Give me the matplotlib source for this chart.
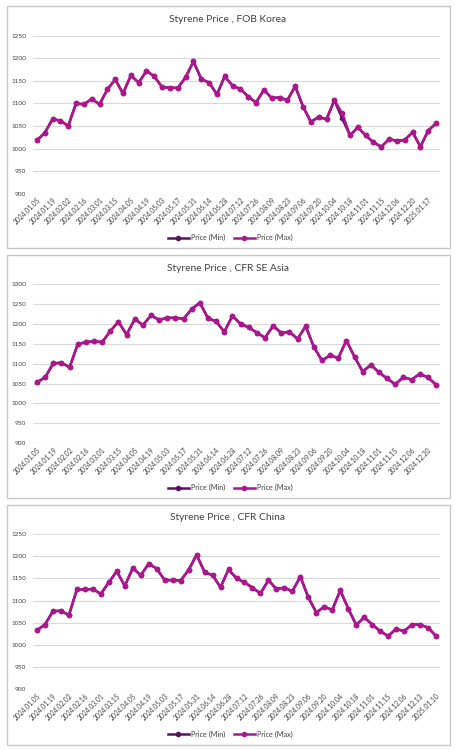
import matplotlib.pyplot as plt
import numpy as np
from matplotlib.patches import Rectangle
from matplotlib.lines import Line2D

plt.rcParams['font.family'] = ['Lato', 'DejaVu Sans']

# weekly assessment dates (category axis)
dates_2024 = ["2024.01.05", "2024.01.12", "2024.01.19", "2024.01.26", "2024.02.02", "2024.02.09",
              "2024.02.16", "2024.02.23", "2024.03.01", "2024.03.08", "2024.03.15", "2024.03.22",
              "2024.04.05", "2024.04.12", "2024.04.19", "2024.04.26", "2024.05.03", "2024.05.10",
              "2024.05.17", "2024.05.24", "2024.05.31", "2024.06.07", "2024.06.14", "2024.06.21",
              "2024.06.28", "2024.07.05", "2024.07.12", "2024.07.19", "2024.07.26", "2024.08.02",
              "2024.08.09", "2024.08.16", "2024.08.23", "2024.08.30", "2024.09.06", "2024.09.13",
              "2024.09.20", "2024.09.27", "2024.10.04", "2024.10.11", "2024.10.18", "2024.10.25",
              "2024.11.01", "2024.11.08", "2024.11.15", "2024.11.22"]

dates_korea = dates_2024 + ["2024.12.06", "2024.12.13", "2024.12.20", "2024.12.27", "2025.01.17", "2025.01.24"]
dates_asia = dates_2024 + ["2024.12.06", "2024.12.13", "2024.12.20", "2024.12.27"]
dates_china = dates_2024 + ["2024.12.06", "2024.12.10", "2024.12.13", "2024.12.20", "2025.01.10"]

korea_max = [1018, 1035, 1065, 1062, 1050, 1100, 1098, 1110, 1098, 1131, 1153, 1122, 1162, 1146,
             1172, 1160, 1136, 1135, 1134, 1158, 1193, 1154, 1146, 1120, 1160, 1139, 1132, 1115,
             1102, 1130, 1112, 1113, 1107, 1138, 1093, 1059, 1070, 1065, 1107, 1078, 1029, 1047,
             1029, 1014, 1004, 1021, 1017, 1019, 1036, 1004, 1040, 1056]
korea_min = [1018, 1035, 1065, 1062, 1050, 1100, 1098, 1110, 1098, 1131, 1153, 1122, 1162, 1146,
             1172, 1160, 1136, 1135, 1134, 1158, 1193, 1154, 1146, 1120, 1160, 1139, 1132, 1115,
             1102, 1130, 1112, 1113, 1107, 1138, 1093, 1059, 1070, 1065, 1107, 1067, 1029, 1047,
             1029, 1014, 1004, 1021, 1017, 1019, 1036, 1004, 1040, 1056]

asia_max = [1053, 1066, 1101, 1102, 1091, 1149, 1154, 1156, 1154, 1182, 1205, 1173, 1212, 1197,
            1221, 1210, 1215, 1215, 1213, 1237, 1253, 1214, 1206, 1180, 1220, 1200, 1191, 1178,
            1165, 1195, 1177, 1180, 1162, 1194, 1142, 1108, 1121, 1114, 1158, 1117, 1080, 1097,
            1078, 1063, 1048, 1066, 1060, 1074, 1066, 1047]
asia_min = list(asia_max)

china_max = [1033, 1046, 1076, 1077, 1067, 1125, 1125, 1126, 1115, 1141, 1166, 1133, 1173, 1157,
             1183, 1172, 1146, 1146, 1145, 1169, 1203, 1164, 1157, 1130, 1170, 1150, 1141, 1129,
             1116, 1146, 1126, 1129, 1121, 1154, 1107, 1073, 1086, 1079, 1123, 1082, 1045, 1062,
             1046, 1031, 1020, 1036, 1031, 1046, 1046, 1039, 1020]
china_min = list(china_max)

panels = [
    ("Styrene Price , FOB Korea", dates_korea, korea_min, korea_max, (900, 1250), 6, 248),
    ("Styrene Price , CFR SE Asia", dates_asia, asia_min, asia_max, (900, 1300), 255, 498),
    ("Styrene Price , CFR China", dates_china, china_min, china_max, (900, 1250), 505, 745),
]
# plot-area pixel extents (top, bottom) for each panel
plot_px = [(35.7, 193.7), (284, 443.3), (534, 689.3)]
title_px = [20, 268.7, 517.7]
legend_px = [237.7, 487.7, 734]

W, H = 456, 750
c_min = "#5A1060"
c_max = "#AE148E"
grid_c = "#D9D9D9"
lw, ms = 1.8, 3.0

fig = plt.figure(figsize=(W / 100, H / 100), dpi=100)

for k, (title, dates, pmin, pmax, ylim, box_top, box_bot) in enumerate(panels):
    # panel frame
    fig.patches.append(Rectangle((7 / W, 1 - box_bot / H), (450 - 7) / W, (box_bot - box_top) / H,
                                 transform=fig.transFigure, fill=False, ec="#C8C8C8", lw=1.0))
    top, bot = plot_px[k]
    ax = fig.add_axes([33 / W, 1 - bot / H, (440 - 33) / W, (bot - top) / H])
    x = np.arange(len(dates))
    ax.plot(x, pmin, color=c_min, lw=lw, marker="o", ms=ms, zorder=3)
    ax.plot(x, pmax, color=c_max, lw=lw, marker="o", ms=ms, zorder=4)
    ax.set_xlim(-0.5, len(dates) - 0.5)
    ax.set_ylim(*ylim)
    ax.set_yticks(np.arange(ylim[0], ylim[1] + 1, 50))
    ax.yaxis.grid(True, color=grid_c, lw=0.8)
    ax.set_axisbelow(True)
    for s in ax.spines.values():
        s.set_visible(False)
    ax.set_xticks(x[::2])
    ax.set_xticklabels(dates[::2], rotation=45, ha="right", va="top", rotation_mode="anchor",
                       fontsize=4.9, color="#404040")
    ax.tick_params(axis="both", length=0, pad=2)
    ax.tick_params(axis="y", labelsize=4.6, labelcolor="#404040", pad=5)

    fig.text(0.5, 1 - title_px[k] / H, title, ha="center", va="center", fontsize=7.4, color="#404040")

    handles = [Line2D([], [], color=c_min, lw=lw, marker="o", ms=ms),
               Line2D([], [], color=c_max, lw=lw, marker="o", ms=ms)]
    fig.legend(handles, ["Price (Min)", "Price (Max)"], loc="center",
               bbox_to_anchor=(230 / W, 1 - legend_px[k] / H), ncol=2, frameon=False,
               fontsize=5.2, handlelength=3, handletextpad=0.2, columnspacing=1.2,
               labelcolor="#404040")

fig.savefig("out.png", dpi=100)
